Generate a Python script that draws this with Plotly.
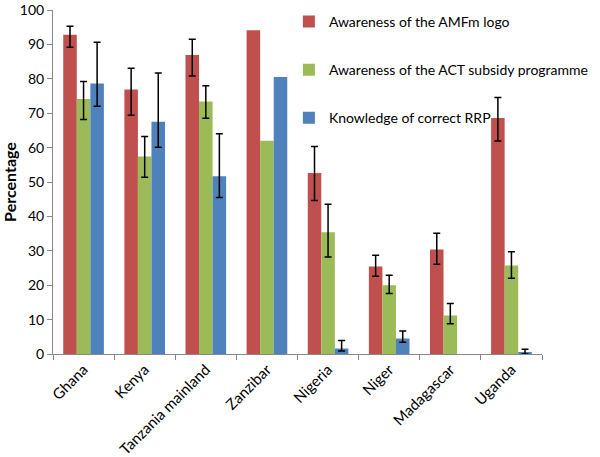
"""
Awareness of AMFm logo / ACT subsidy and knowledge of RRP, by country
"""
import plotly.graph_objects as go

# data
countries = ['Ghana', 'Kenya', 'Tanzania mainland', 'Zanzibar', 'Nigeria', 'Niger', 'Madagascar', 'Uganda']

logo = [92.8, 76.9, 86.9, 94.1, 52.6, 25.4, 30.4, 68.6]
logo_hi = [95.3, 83.1, 91.5, None, 60.3, 28.7, 35.1, 74.6]
logo_lo = [89.2, 69.4, 80.8, None, 44.6, 22.6, 26.1, 61.9]

act = [74.1, 57.4, 73.4, 62.0, 35.4, 20.0, 11.2, 25.7]
act_hi = [79.2, 63.2, 78.0, None, 43.5, 22.9, 14.7, 29.7]
act_lo = [68.2, 51.4, 68.5, None, 28.2, 17.6, 8.8, 22.0]

rrp = [78.6, 67.5, 51.7, 80.5, 1.6, 4.5, 0.0, 0.3]
rrp_hi = [90.6, 81.7, 64.0, None, 3.9, 6.7, None, 1.4]
rrp_lo = [72.0, 60.1, 45.5, None, 0.9, 3.4, None, 0.0]

series = [
    ('Awareness of the AMFm logo', logo, logo_hi, logo_lo, '#C0504D'),
    ('Awareness of the ACT subsidy programme', act, act_hi, act_lo, '#9BBB59'),
    ('Knowledge of correct RRP', rrp, rrp_hi, rrp_lo, '#4F81BD'),
]

fig = go.Figure()
for i, (name, vals, hi, lo, col) in enumerate(series):
    # 'NaN' -> no error bar drawn for that point (null would draw a zero-length one)
    plus = [h - v if h is not None else 'NaN' for v, h in zip(vals, hi)]
    minus = [v - l if l is not None else 'NaN' for v, l in zip(vals, lo)]
    fig.add_trace(go.Bar(
        x=countries, y=vals, name=name,
        marker=dict(color=col, line=dict(width=0)),
        legendgroup=str(i),
        error_y=dict(type='data', symmetric=False, array=plus, arrayminus=minus,
                     color='black', thickness=1.5, width=3.5),
    ))

fig.update_layout(
    width=600, height=457,
    margin=dict(l=53, r=24, t=6, b=103),
    paper_bgcolor='white', plot_bgcolor='white',
    font=dict(family='Lato, sans-serif', size=14, color='black'),
    barmode='group', bargap=0.335, bargroupgap=0,
    showlegend=True,
    legend=dict(x=0.4824, y=1.012, xanchor='left', yanchor='top',
                traceorder='grouped', tracegroupgap=27,
                font=dict(size=14), bgcolor='rgba(0,0,0,0)'),
)
fig.update_yaxes(
    range=[0, 100], dtick=10, showgrid=False, zeroline=False,
    showline=True, linecolor='#888888', linewidth=1,
    ticks='outside', ticklen=5, tickcolor='#888888', automargin=False,
    tickfont=dict(size=14), ticklabeloverflow='allow',
    title=dict(text='<b>Percentage</b>', font=dict(size=16), standoff=0),
)
fig.update_xaxes(
    showgrid=False, showline=True, linecolor='#888888', linewidth=1,
    ticks='outside', ticklen=5, tickcolor='#888888', tickson='boundaries',
    tickangle=-45, tickfont=dict(size=15), automargin=False,
)

fig.write_html("out.html", config={'displayModeBar': False},
               post_script="document.body.style.margin='0';")
